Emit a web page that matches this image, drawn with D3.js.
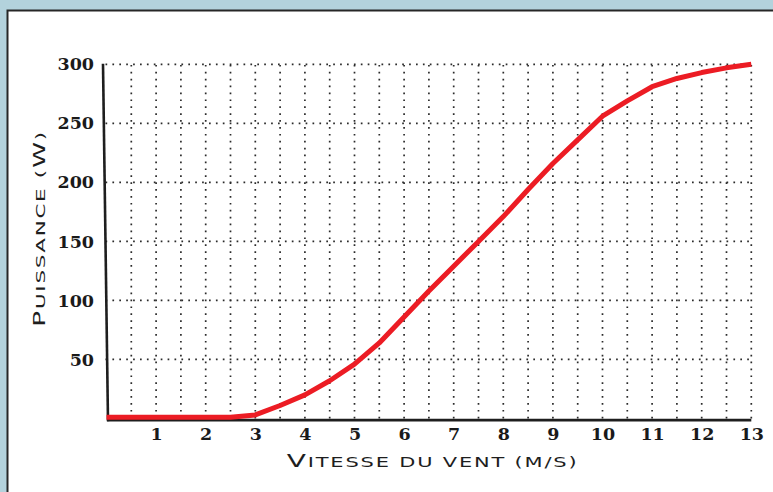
<!DOCTYPE html>
<html>
<head>
<meta charset="utf-8">
<script src="https://cdn.jsdelivr.net/npm/d3@7"></script>
<style>
  html, body { margin: 0; padding: 0; background: #b3d2dc; }
  svg { display: block; }
</style>
</head>
<body>
<svg id="chart" width="773" height="492"></svg>
<script>
// Wind turbine power curve: output power (W) against wind speed (m/s)
const windSpeed = [0, 0.5, 1, 1.5, 2, 2.5, 3, 3.5, 4, 4.5, 5, 5.5, 6, 6.5,
                   7, 7.5, 8, 8.5, 9, 9.5, 10, 10.5, 11, 11.5, 12, 12.5, 13];
const power     = [1, 1, 1, 1, 1, 1, 3, 11, 20, 32, 46, 64, 86, 108,
                   129, 150, 171, 194, 216, 236, 256, 269, 281, 288, 293, 297, 300];

const xTicks = [1, 2, 3, 4, 5, 6, 7, 8, 9, 10, 11, 12, 13];
const yTicks = [50, 100, 150, 200, 250, 300];
const xGridStep = 0.5;

const svg = d3.select("#chart");

// white panel with dark frame, running off the right and bottom edges
svg.append("rect")
  .attr("x", 7.5).attr("y", 10.5)
  .attr("width", 820).attr("height", 520)
  .attr("fill", "#ffffff")
  .attr("stroke", "#262626")
  .attr("stroke-width", 2);

const x = d3.scaleLinear().domain([0, 13]).range([106.5, 751.3]);
const y = d3.scaleLinear().domain([0, 300]).range([418.5, 64.3]);

const gridColor = "#2b2b2b";
const dots = "1.7 5.2";

// dotted grid
const xGrid = d3.range(xGridStep, 13 + 1e-9, xGridStep);
svg.append("g").selectAll("line")
  .data(xGrid).join("line")
  .attr("x1", d => x(d)).attr("x2", d => x(d))
  .attr("y1", y(0)).attr("y2", y(300))
  .attr("stroke", gridColor)
  .attr("stroke-width", 1.7)
  .attr("stroke-dasharray", dots);

svg.append("g").selectAll("line")
  .data(yTicks).join("line")
  .attr("x1", x(0) - 1).attr("x2", x(13))
  .attr("y1", d => y(d)).attr("y2", d => y(d))
  .attr("stroke", gridColor)
  .attr("stroke-width", 1.7)
  .attr("stroke-dasharray", dots);

// axis lines
svg.append("line")
  .attr("x1", x(0) - 3.5).attr("y1", y(300) - 0.5)
  .attr("x2", x(0) + 1.5).attr("y2", y(0) + 2.8)
  .attr("stroke", "#1e1e1e").attr("stroke-width", 2.6);
svg.append("line")
  .attr("x1", x(0) + 0.5).attr("y1", y(0) + 1.6)
  .attr("x2", x(13)).attr("y2", y(0) + 1.6)
  .attr("stroke", "#1e1e1e").attr("stroke-width", 2.6);

// tick labels
const tickFont = "'DejaVu Serif', serif";

const xAxis = svg.append("g")
  .attr("transform", `translate(0,${y(0) + 1.6})`)
  .call(d3.axisBottom(x).tickValues(xTicks).tickSize(0).tickPadding(7.2).tickFormat(d3.format("d")));
xAxis.select(".domain").remove();
xAxis.selectAll("text")
  .attr("font-family", tickFont).attr("font-weight", "900")
  .attr("font-size", 17.5).attr("fill", "#1a1a1a");

const yAxis = svg.append("g")
  .attr("transform", `translate(${x(0) - 2.5},0)`)
  .call(d3.axisLeft(y).tickValues(yTicks).tickSize(0).tickPadding(10).tickFormat(d3.format("d")));
yAxis.select(".domain").remove();
yAxis.selectAll("text")
  .attr("font-family", tickFont).attr("font-weight", "900")
  .attr("font-size", 17.5).attr("fill", "#1a1a1a");

// power curve
svg.append("path")
  .datum(windSpeed.map((s, i) => [s, power[i]]))
  .attr("fill", "none")
  .attr("stroke", "#ec1c24")
  .attr("stroke-width", 5)
  .attr("stroke-linejoin", "round")
  .attr("d", d3.line().x(d => x(d[0])).y(d => y(d[1])));

// axis titles in wide small capitals
const titleFont = "'DejaVu Sans', sans-serif";

// builds a small-caps title, then stretches it horizontally to the given width
function smallCapsTitle(parts, capSize, smallSize, spacing, width, place) {
  const g = svg.append("g");
  const t = g.append("text")
    .attr("font-family", titleFont)
    .attr("fill", "#1e1e1e")
    .attr("letter-spacing", spacing);
  parts.forEach(([str, big]) => {
    t.append("tspan")
      .attr("font-size", big ? capSize : smallSize)
      .text(str.toUpperCase());
  });
  const natural = t.node().getComputedTextLength() - spacing;
  const sx = width / natural;
  g.attr("transform", place + ` scale(${sx},1)`);
  return g;
}

smallCapsTitle([["V", true], ["itesse du vent (m/s)", false]],
  18.5, 13.8, 1.2, 290, "translate(286.7,467)");

smallCapsTitle([["P", true], ["uissance (", false], ["W", true], [")", false]],
  15.5, 12.5, 1.0, 195, "translate(44.5,326.7) rotate(-90)");
</script>
</body>
</html>
